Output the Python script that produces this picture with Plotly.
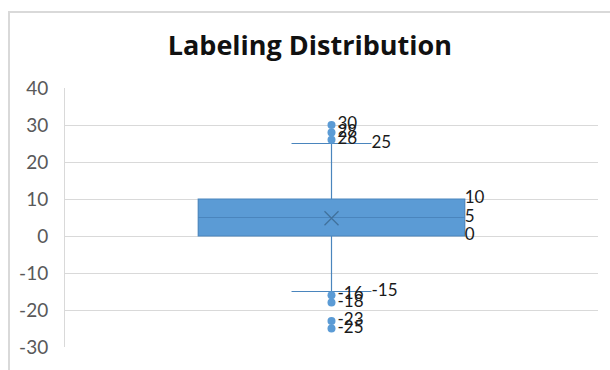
import plotly.graph_objects as go

# ---- data ----
title_text = "Labeling Distribution"
q1 = [0]
median = [5]
q3 = [10]
lower_whisker = [-15]
upper_whisker = [25]
mean_value = [4.8]
upper_outliers = [26, 28, 30]
lower_outliers = [-16, -18, -23, -25]
y_ticks = [-30, -20, -10, 0, 10, 20, 30, 40]
y_tick_labels = ["-30", "-20", "-10", "0", "10", "20", "30", "40"]

BLUE = "#5B9BD5"
DARK = "#41719C"
LABEL = "#1a1a1a"
FONT = "Lato"

W, H = 610, 370
L, R, T, B = 65, 12, 88, 23
pw, ph = W - L - R, H - T - B

fig = go.Figure()

fig.add_trace(go.Box(
    x=[0], q1=q1, median=median, q3=q3,
    lowerfence=lower_whisker, upperfence=upper_whisker,
    width=1, whiskerwidth=0.3, boxpoints=False,
    fillcolor=BLUE, line=dict(color="#4A85BD", width=1.2),
    showlegend=False, hoverinfo="skip",
))

# mean marker
fig.add_trace(go.Scatter(
    x=[0], y=mean_value, mode="markers",
    marker=dict(symbol="x-thin-open", size=14, color=DARK,
                line=dict(color=DARK, width=1.3)),
    showlegend=False, hoverinfo="skip",
))

# outliers with labels
outliers = upper_outliers + lower_outliers
fig.add_trace(go.Scatter(
    x=[0] * len(outliers), y=outliers, mode="markers+text",
    marker=dict(symbol="circle", size=8, color=BLUE),
    text=[str(v) for v in outliers], textposition="middle right",
    textfont=dict(family=FONT, size=17, color=LABEL),
    cliponaxis=False, showlegend=False, hoverinfo="skip",
))

# box value labels
box_vals = [q3[0], median[0], q1[0]]
fig.add_trace(go.Scatter(
    x=[0.5] * 3, y=box_vals, mode="text",
    text=[str(v) for v in box_vals], textposition="middle right",
    textfont=dict(family=FONT, size=17, color=LABEL),
    cliponaxis=False, showlegend=False, hoverinfo="skip",
))

# whisker labels
wh_vals = [upper_whisker[0], lower_whisker[0]]
fig.add_trace(go.Scatter(
    x=[0.15] * 2, y=wh_vals, mode="text",
    text=[str(v) for v in wh_vals], textposition="middle right",
    textfont=dict(family=FONT, size=17, color=LABEL),
    cliponaxis=False, showlegend=False, hoverinfo="skip",
))

# chart area border (extends past right/bottom edges)
fig.add_shape(type="rect", xref="paper", yref="paper",
              x0=(9 - L) / pw, x1=(W + 10 - L) / pw,
              y0=-(B + 10) / ph, y1=(ph + T - 12) / ph,
              line=dict(color="#D9D9D9", width=2), layer="below")

fig.update_layout(
    width=W, height=H,
    margin=dict(l=L, r=R, t=T, b=B),
    paper_bgcolor="white", plot_bgcolor="white",
    title=dict(text="<b>" + title_text + "</b>", x=0.508, xanchor="center",
               y=1 - 46 / H, yanchor="middle",
               font=dict(family="Open Sans", size=27, color="#111111")),
    xaxis=dict(range=[-1, 1], showgrid=False, zeroline=False,
               showticklabels=False, ticks="", showline=False, fixedrange=True),
    yaxis=dict(range=[-30, 40], tickvals=y_ticks, ticktext=y_tick_labels,
               showgrid=True, gridcolor="#D9D9D9", gridwidth=1, zeroline=False,
               showline=True, linecolor="#D9D9D9", linewidth=1,
               ticks="", ticklabelstandoff=12,
               tickfont=dict(family=FONT, size=19, color="#595959")),
    showlegend=False,
)

fig.write_html("out.html")
